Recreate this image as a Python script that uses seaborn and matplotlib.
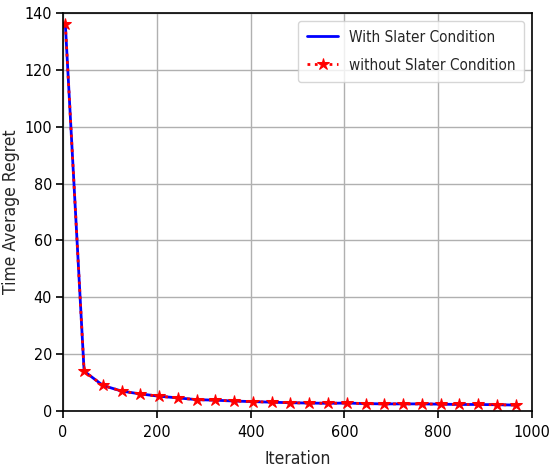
import matplotlib
matplotlib.use("Agg")
import matplotlib.pyplot as plt
import seaborn as sns
import pandas as pd

iterations = [5 + 40 * k for k in range(25)]
with_slater = [136, 14, 9, 7, 6, 5.2, 4.6, 4.0, 3.8, 3.5, 3.3, 3.1, 2.9, 2.8, 2.7, 2.8, 2.6, 2.5, 2.5, 2.5, 2.4, 2.3, 2.3, 2.2, 2.1]
without_slater = [136, 14, 9, 7, 6, 5.2, 4.6, 4.0, 3.8, 3.5, 3.3, 3.1, 2.9, 2.8, 2.7, 2.8, 2.6, 2.5, 2.5, 2.5, 2.4, 2.3, 2.3, 2.2, 2.1]

sns.set_style("ticks")
plt.rcParams['font.family'] = ['DejaVu Sans']
plt.rcParams['font.stretch'] = 'condensed'

fig = plt.figure(figsize=(5.5, 4.7), dpi=100)
ax = fig.add_axes([63/550, 1 - 411/470, (532-63)/550, (411-13)/470])

df1 = pd.DataFrame({"x": iterations, "y": with_slater})
df2 = pd.DataFrame({"x": iterations, "y": without_slater})
sns.lineplot(data=df1, x="x", y="y", ax=ax, color="blue", linewidth=2, label="With Slater Condition")
sns.lineplot(data=df2, x="x", y="y", ax=ax, color="red", linestyle=":", linewidth=2,
             marker="*", markersize=9, markeredgecolor="red", label="without Slater Condition")

ax.set_xlim(0, 1000)
ax.set_ylim(0, 140)
ax.set_xticks([0, 200, 400, 600, 800, 1000])
ax.set_yticks([0, 20, 40, 60, 80, 100, 120, 140])
ax.grid(True, color="#b0b0b0", linewidth=1)
for s in ax.spines.values():
    s.set_visible(True)
    s.set_color("black")
    s.set_linewidth(1.2)
ax.tick_params(axis="both", labelsize=11.5, colors="black", direction="out", length=5, width=1.2)
ax.tick_params(axis="x", pad=5)
ax.tick_params(axis="y", pad=3)
ax.set_xlabel("Iteration", fontsize=12.5, labelpad=7)
ax.set_ylabel("Time Average Regret", fontsize=12.5, labelpad=3)
ax.legend(loc="upper right", fontsize=11, frameon=True, handlelength=2.0,
          handletextpad=0.7, labelspacing=0.85, borderpad=0.6, borderaxespad=0.5)

fig.savefig("out.png", dpi=100)
